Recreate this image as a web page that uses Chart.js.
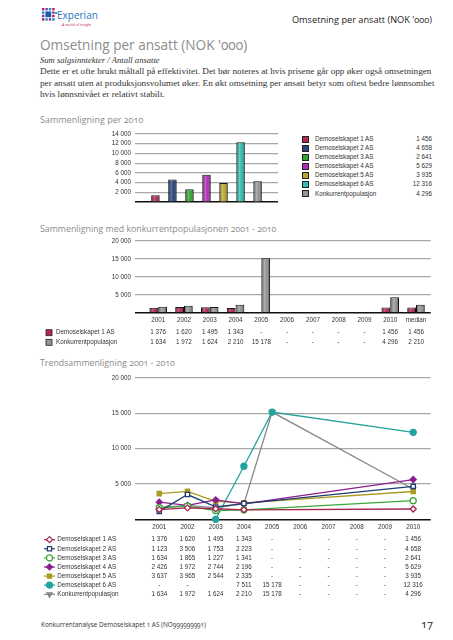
<!DOCTYPE html>
<html>
<head>
<meta charset="utf-8">
<script src="https://cdn.jsdelivr.net/npm/chart.js@4/dist/chart.umd.min.js"></script>
<style>
  body { margin: 0; width: 453px; height: 640px; position: relative; background: #fff; overflow: hidden; font-family: "Open Sans", sans-serif; }
  .abs { position: absolute; white-space: nowrap; }
  .head { color: #8c8c8c; font-variant-numeric: oldstyle-nums; }
  .serif { font-family: "Liberation Serif", "DejaVu Serif", serif; color: #333; }
  canvas { position: absolute; }
  #legend1 { position: absolute; left: 300px; top: 134px; width: 132px; font-family: "Liberation Sans", Arial, sans-serif; font-size: 6.3px; color: #333; }
  #legend1 .row { position: relative; height: 9.1px; line-height: 9.1px; }
  #legend1 .sw { position: absolute; left: 2px; top: 1.6px; width: 5px; height: 5px; border: 0.8px solid #222; }
  #legend1 .lb { position: absolute; left: 15px; }
  #legend1 .val { position: absolute; right: 0; }
</style>
</head>
<body>
<!-- logo -->
<svg class="abs" style="left:42px;top:8px" width="16" height="15" viewBox="0 0 16 15">
  <g fill="#5b4ba3">
    <rect x="0" y="0" width="2.4" height="2.4" fill="#c2185b"/><rect x="3.4" y="0" width="2.4" height="2.4"/><rect x="6.8" y="0" width="2.4" height="2.4" fill="#1e88c8"/><rect x="10.2" y="0" width="2.4" height="2.4" fill="#c2185b"/>
    <rect x="0" y="3.4" width="2.4" height="2.4" fill="#1e88c8"/><rect x="3.4" y="3.4" width="5.8" height="5.8" fill="#1e5aa8"/><rect x="10.2" y="3.4" width="2.4" height="2.4" fill="#7b3fa0"/><rect x="13.2" y="4" width="2" height="2" fill="#1e88c8"/>
    <rect x="0" y="6.8" width="2.4" height="2.4" fill="#7b3fa0"/><rect x="10.2" y="6.8" width="2.4" height="2.4" fill="#c2185b"/>
    <rect x="0" y="10.2" width="2.4" height="2.4" fill="#c2185b"/><rect x="3.4" y="10.2" width="2.4" height="2.4" fill="#1e88c8"/><rect x="6.8" y="10.2" width="2.4" height="2.4"/><rect x="10.2" y="10.2" width="2.4" height="2.4" fill="#1e88c8"/>
  </g>
</svg>
<div class="abs" style="left:57px;top:9px;font-size:10px;line-height:12px;color:#2a72c0;">Experian</div>
<div class="abs" style="left:62px;top:22px;font-size:3.6px;line-height:5px;color:#c2185b;">A world of insight</div>
<div class="abs" style="right:21px;top:13px;font-size:9.2px;line-height:14px;color:#222;font-variant-numeric:oldstyle-nums;">Omsetning per ansatt (NOK '000)</div>

<div class="abs head" style="left:40px;top:35px;font-size:13.6px;line-height:20px;">Omsetning per ansatt (NOK '000)</div>
<div class="abs serif" style="left:40px;top:54px;font-size:8.6px;line-height:12px;font-style:italic;">Sum salgsinntekter / Antall ansatte</div>
<div class="abs serif" style="left:40px;top:66px;font-size:9.2px;line-height:11.7px;">Dette er et ofte brukt måltall på effektivitet. Det bør noteres at hvis prisene går opp øker også omsetningen<br>per ansatt uten at produksjonsvolumet øker. En økt omsetning per ansatt betyr som oftest bedre lønnsomhet<br>hvis lønnsnivået er relativt stabilt.</div>

<div class="abs head" style="left:40px;top:113px;font-size:9px;line-height:14px;">Sammenligning per 2010</div>
<canvas id="c1" width="195" height="85" style="left:90px;top:125px"></canvas>
<div id="legend1"></div>

<div class="abs head" style="left:40px;top:222px;font-size:8.8px;line-height:14px;">Sammenligning med konkurrentpopulasjonen 2001 - 2010</div>
<canvas id="c2" width="400" height="118" style="left:40px;top:232px"></canvas>

<div class="abs head" style="left:40px;top:356px;font-size:8.8px;line-height:14px;">Trendsammenligning 2001 - 2010</div>
<canvas id="c3" width="400" height="235" style="left:40px;top:368px"></canvas>

<div class="abs" style="left:41px;top:619px;font-size:6.4px;line-height:12px;color:#333;font-variant-numeric:oldstyle-nums;">Konkurrentanalyse Demoselskapet 1 AS (NO999999991)</div>
<div class="abs" style="left:421px;top:616px;font-size:11px;line-height:16px;color:#222;font-variant-numeric:oldstyle-nums;">17</div>

<script>
// data
var companies = ['Demoselskapet 1 AS', 'Demoselskapet 2 AS', 'Demoselskapet 3 AS', 'Demoselskapet 4 AS',
  'Demoselskapet 5 AS', 'Demoselskapet 6 AS', 'Konkurrentpopulasjon'];
var values2010 = [1456, 4658, 2641, 5629, 3935, 12316, 4296];

var years = ['2001', '2002', '2003', '2004', '2005', '2006', '2007', '2008', '2009', '2010'];
var yearsMedian = years.concat(['median']);

var demo1 = [1376, 1620, 1495, 1343, null, null, null, null, null, 1456];
var demo2 = [1123, 3506, 1753, 2223, null, null, null, null, null, 4658];
var demo3 = [1634, 1865, 1227, 1341, null, null, null, null, null, 2641];
var demo4 = [2426, 1972, 2744, 2196, null, null, null, null, null, 5629];
var demo5 = [3637, 3965, 2544, 2335, null, null, null, null, null, 3935];
var demo6 = [null, null, 0, 7511, 15178, null, null, null, null, 12316];
var konkurrent = [1634, 1972, 1624, 2210, 15178, null, null, null, null, 4296];
var demo1Median = 1456;
var konkurrentMedian = 2210;

var ticks2010 = [0, 2000, 4000, 6000, 8000, 10000, 12000, 14000];
var ticksTrend = [0, 5000, 10000, 15000, 20000];

var barColors = ['#b3284f', '#24457e', '#2fa52f', '#b22cb8', '#b6a92c', '#2ebdb5', '#959595'];
var lineColors = ['#a8234d', '#1f3d6e', '#3aa83a', '#8b1d90', '#aa9b22', '#23a39d', '#888888'];

Chart.defaults.font.family = '"Liberation Sans", Arial, sans-serif';
Chart.defaults.font.size = 6.3;
Chart.defaults.color = '#333';
Chart.defaults.animation = false;

function fmt(v) {
  return String(v).replace(/\B(?=(\d{3})+(?!\d))/g, ' ');
}
function fmtCell(v) {
  if (v === null) return '-';
  if (v === 0) return '';
  return fmt(v);
}
function points(arr) {
  return arr.map(function (v, i) { return { x: i, y: v }; });
}

function yAxis(tickValues, width) {
  return {
    min: tickValues[0], max: tickValues[tickValues.length - 1],
    afterFit: function (s) { s.width = width; },
    afterBuildTicks: function (s) { s.ticks = tickValues.map(function (v) { return { value: v }; }); },
    border: { display: false },
    grid: {
      drawTicks: false,
      color: function (c) { return c.tick.value === 0 ? '#111' : '#a8a8a8'; },
      lineWidth: function (c) { return c.tick.value === 0 ? 1.5 : 1.2; }
    },
    ticks: { autoSkip: false, padding: 4, callback: function (v) { return v === 0 ? '' : fmt(v); } }
  };
}
function xAxis(labels, min, max) {
  return {
    type: 'linear', min: min, max: max, offset: false,
    afterBuildTicks: function (s) { s.ticks = labels.map(function (_, i) { return { value: i }; }); },
    afterFit: function (s) { s.height = 12; },
    grid: { display: false, drawTicks: false },
    border: { display: false },
    ticks: { autoSkip: false, maxRotation: 0, padding: 4, callback: function (v) { return labels[v] || ''; } }
  };
}

// cylinder-like shading on bars
var shadePlugin = {
  id: 'shade',
  afterDatasetsDraw: function (chart) {
    var ctx = chart.ctx;
    chart.data.datasets.forEach(function (ds, di) {
      chart.getDatasetMeta(di).data.forEach(function (bar) {
        if (bar.y == null || isNaN(bar.y)) return;
        var l = bar.x - bar.width / 2 + 0.8, r = bar.x + bar.width / 2 - 0.8;
        var top = Math.min(bar.y, bar.base) + 0.8, bottom = Math.max(bar.y, bar.base);
        if (bottom - top <= 0) return;
        var g = ctx.createLinearGradient(l, 0, r, 0);
        g.addColorStop(0, 'rgba(0,0,0,0.35)');
        g.addColorStop(0.35, 'rgba(255,255,255,0.25)');
        g.addColorStop(0.6, 'rgba(255,255,255,0)');
        g.addColorStop(1, 'rgba(0,0,0,0.4)');
        ctx.save();
        ctx.fillStyle = g;
        ctx.fillRect(l, top, r - l, bottom - top);
        ctx.restore();
      });
    });
  }
};

// value table under charts 2 and 3
var tablePlugin = {
  id: 'valueTable',
  afterDraw: function (chart, args, opts) {
    if (!opts.rows) return;
    var ctx = chart.ctx, x = chart.scales.x;
    ctx.save();
    ctx.font = '6.3px "Liberation Sans", Arial, sans-serif';
    ctx.textBaseline = 'middle';
    opts.rows.forEach(function (row, r) {
      var y = opts.top + r * opts.step;
      if (row.square) {
        ctx.fillStyle = row.color;
        ctx.fillRect(opts.markerX - 3, y - 3, 6, 6);
        ctx.strokeStyle = '#222';
        ctx.lineWidth = 0.8;
        ctx.strokeRect(opts.markerX - 3, y - 3, 6, 6);
      } else {
        ctx.strokeStyle = row.color;
        ctx.lineWidth = 1.2;
        ctx.beginPath();
        ctx.moveTo(opts.markerX - 5.5, y);
        ctx.lineTo(opts.markerX + 5.5, y);
        ctx.stroke();
        ctx.fillStyle = row.fill;
        Chart.helpers.drawPoint(ctx, { pointStyle: row.style, rotation: row.rotation || 0, radius: 3, borderWidth: 1.2 }, opts.markerX, y);
      }
      ctx.fillStyle = '#333';
      ctx.textAlign = 'left';
      ctx.fillText(row.label, opts.labelX, y);
      ctx.textAlign = 'center';
      row.values.forEach(function (v, i) {
        ctx.fillText(fmtCell(v), x.getPixelForValue(i), y);
      });
    });
    ctx.restore();
  }
};

// legend for chart 1
var legend = document.getElementById('legend1');
companies.forEach(function (name, i) {
  var row = document.createElement('div');
  row.className = 'row';
  row.innerHTML = '<span class="sw" style="background:' + barColors[i] + '"></span><span class="lb">' + name +
    '</span><span class="val">' + fmt(values2010[i]) + '</span>';
  legend.appendChild(row);
});

// chart 1: per 2010
new Chart(document.getElementById('c1'), {
  type: 'bar',
  data: {
    datasets: [{
      data: points(values2010),
      backgroundColor: barColors,
      borderColor: '#111',
      borderWidth: 1,
      barPercentage: 0.5,
      categoryPercentage: 1
    }]
  },
  options: {
    responsive: false,
    layout: { padding: { top: 9, right: 7, bottom: 6, left: 0 } },
    plugins: { legend: { display: false }, tooltip: { enabled: false } },
    scales: {
      x: { type: 'linear', min: -1.2, max: 7.2, offset: false, display: false },
      y: yAxis(ticks2010, 45)
    }
  },
  plugins: [shadePlugin]
});

// chart 2: company vs population
new Chart(document.getElementById('c2'), {
  type: 'bar',
  data: {
    datasets: [
      { data: points(demo1.concat([demo1Median])), backgroundColor: barColors[0] },
      { data: points(konkurrent.concat([konkurrentMedian])), backgroundColor: barColors[6] }
    ].map(function (d) {
      d.borderColor = '#111'; d.borderWidth = 1;
      d.barPercentage = 1; d.categoryPercentage = 0.68;
      return d;
    })
  },
  options: {
    responsive: false,
    layout: { padding: { top: 9, right: 9.3, bottom: 25.3, left: 0 } },
    plugins: {
      legend: { display: false }, tooltip: { enabled: false },
      valueTable: {
        top: 100.7, step: 9.6, markerX: 9, labelX: 16,
        rows: [
          { label: companies[0], color: barColors[0], square: true, values: demo1.concat([demo1Median]) },
          { label: companies[6], color: barColors[6], square: true, values: konkurrent.concat([konkurrentMedian]) }
        ]
      }
    },
    scales: {
      x: xAxis(yearsMedian, -0.9, 10.57),
      y: yAxis(ticksTrend, 95)
    }
  },
  plugins: [shadePlugin, tablePlugin]
});

// chart 3: trend
var trendSeries = [demo1, demo2, demo3, demo4, demo5, demo6, konkurrent];
var styles = [
  { style: 'rectRot', open: true }, { style: 'rect', open: true }, { style: 'circle', open: true },
  { style: 'rectRot', open: false }, { style: 'rect', open: false }, { style: 'circle', open: false },
  { style: 'triangle', open: false, rotation: 180 }
];
new Chart(document.getElementById('c3'), {
  type: 'line',
  data: {
    datasets: trendSeries.map(function (s, i) {
      return {
        data: points(s),
        borderColor: lineColors[i],
        borderWidth: 1.3,
        pointStyle: styles[i].style,
        rotation: styles[i].rotation || 0,
        pointRadius: 3,
        pointBorderWidth: 1.3,
        pointBorderColor: lineColors[i],
        pointBackgroundColor: styles[i].open ? '#fff' : lineColors[i],
        spanGaps: true,
        clip: false
      };
    })
  },
  options: {
    responsive: false,
    layout: { padding: { top: 10, right: 9.3, bottom: 71.7, left: 0 } },
    plugins: {
      legend: { display: false }, tooltip: { enabled: false },
      valueTable: {
        top: 171.7, step: 9.1, markerX: 9.5, labelX: 17.3,
        rows: trendSeries.map(function (s, i) {
          return {
            label: companies[i], color: lineColors[i], style: styles[i].style, rotation: styles[i].rotation,
            fill: styles[i].open ? '#fff' : lineColors[i], values: s
          };
        })
      }
    },
    scales: {
      x: xAxis(years, -0.86, 9.62),
      y: yAxis(ticksTrend, 95)
    }
  },
  plugins: [tablePlugin]
});
</script>
</body>
</html>
